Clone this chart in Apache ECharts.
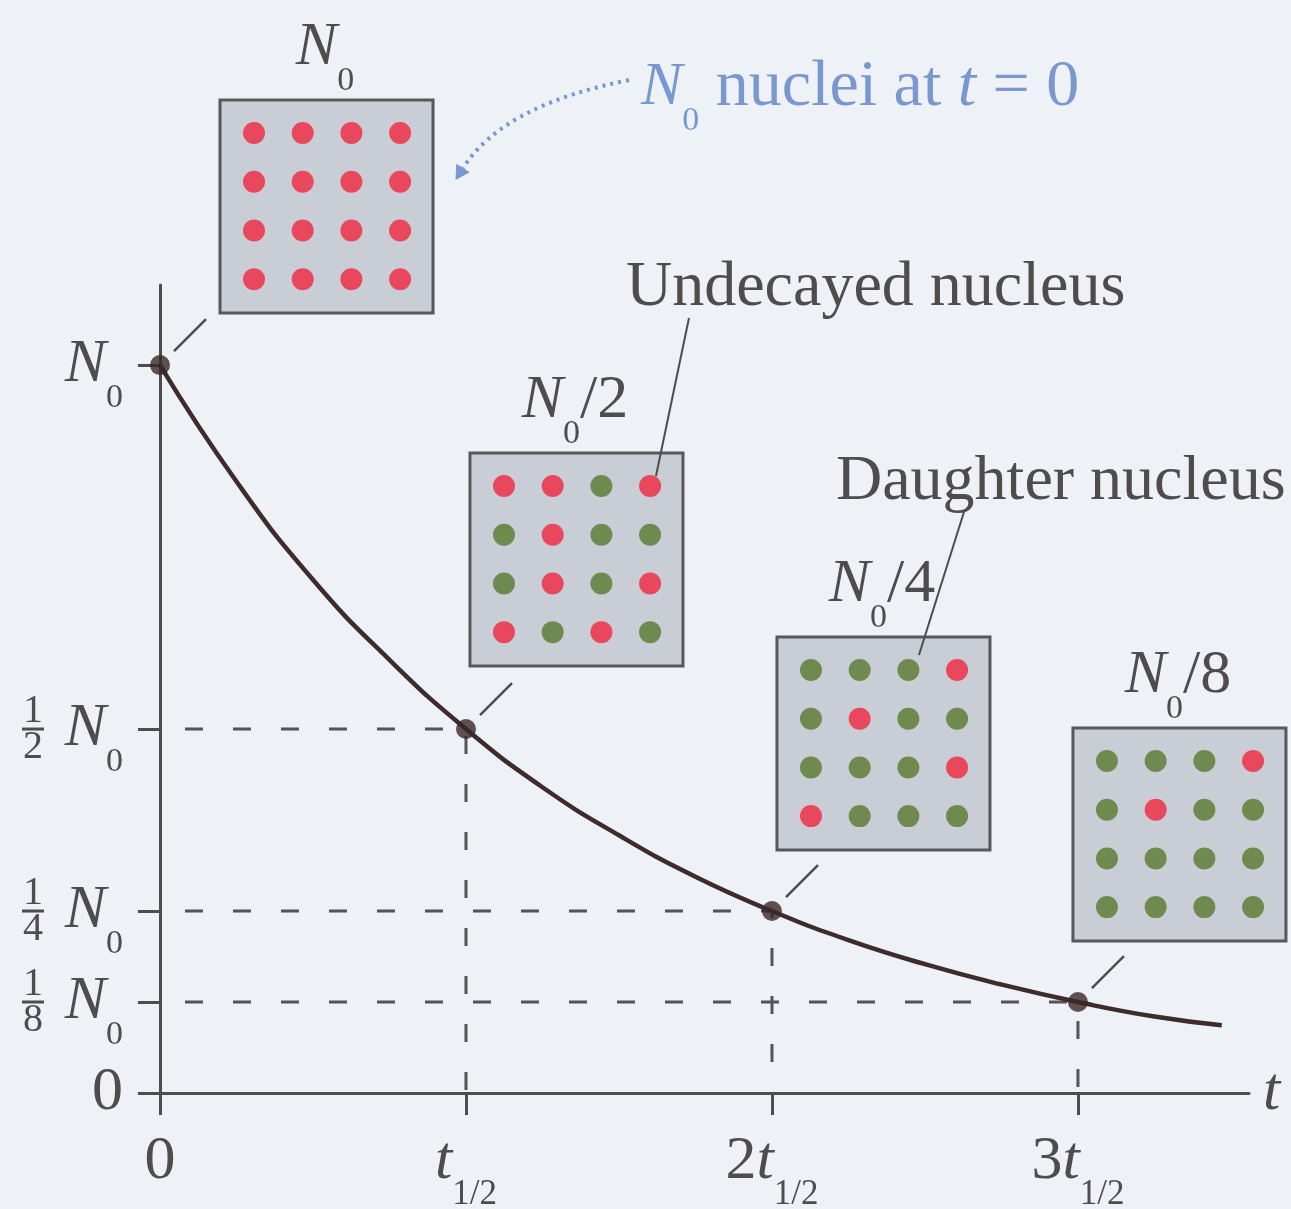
<!DOCTYPE html>
<html>
<head>
<meta charset="utf-8">
<script src="https://cdn.jsdelivr.net/npm/echarts@6/dist/echarts.min.js"></script>
<style>
  html, body { margin: 0; padding: 0; background: #eef1f6; }
  #chart { width: 1291px; height: 1209px; }
</style>
</head>
<body>
<div id="chart"></div>
<script>
// Decay curve: time in half-lives, remaining fraction of N0
const curveT = [0, 0.25, 0.5, 0.75, 1, 1.25, 1.5, 1.75, 2, 2.25, 2.5, 2.75, 3, 3.25, 3.47];
const curveN = [1, 0.84, 0.705, 0.595, 0.5, 0.42, 0.354, 0.297, 0.25, 0.21, 0.177, 0.149, 0.125, 0.105, 0.093];

// Marked points after each half-life
const markT = [0, 1, 2, 3];
const markN = [1, 0.5, 0.25, 0.125];

// Sample panels: title suffix and nucleus states row by row (U = undecayed, D = daughter)
const panelTitles = ['', '/2', '/4', '/8'];
const panelStates = [
  ['UUUU', 'UUUU', 'UUUU', 'UUUU'],
  ['UUDU', 'DUDD', 'DUDU', 'UDUD'],
  ['DDDU', 'DUDD', 'DDDU', 'UDDD'],
  ['DDDU', 'DUDD', 'DDDD', 'DDDD']
];

// Tick labels
const xTickValues = [0, 1, 2, 3];
const xTickPrefix = ['0', '', '2', '3'];
const yTickValues = [0, 0.125, 0.25, 0.5, 1];
const yFracValues = [0.125, 0.25, 0.5];
const yFracDen = ['8', '4', '2'];

// Callout texts
const calloutTexts = ['Undecayed nucleus', 'Daughter nucleus'];

// ---- styling ----
const FONT = '"Liberation Serif", "Times New Roman", serif';
const INK = '#4e4c4d';
const CURVE = '#3e2b2c';
const BLUE = '#7898cf';
const RED = '#e8475c';
const GREEN = '#6e8a4e';
const BOX_FILL = '#c9ced6';
const BOX = 213;
const DOT_STEP = 48.7;

// box top-left relative to its point on the curve
const panelOffset = [[60, -265], [4, -276], [5, -274], [-5, -274]];
// callouts: which panel, text left/center, line start/end (relative to panel top-left)
const calloutLayout = [
  { panel: 1, text: [156, -165], from: [219, -135], to: [186, 23] },
  { panel: 2, text: [59, -155], from: [187, -125], to: [142, 18] }
];

// rich styles for axis labels (ECharts label style)
const richLabel = {
  n: { fontFamily: FONT, fontStyle: 'italic', fontSize: 62, lineHeight: 100, color: INK },
  t: { fontFamily: FONT, fontStyle: 'italic', fontSize: 62, lineHeight: 100, color: INK },
  z: { fontFamily: FONT, fontSize: 62, lineHeight: 100, color: INK },
  s: { fontFamily: FONT, fontSize: 34, verticalAlign: 'bottom', color: INK },
  q: { fontFamily: FONT, fontSize: 35, verticalAlign: 'bottom', color: INK }
};

// rich styles for drawn text elements (zrender style uses fill)
function richText(color) {
  return {
    n: { fontFamily: FONT, fontStyle: 'italic', fontSize: 62, lineHeight: 100, fill: color },
    t: { fontFamily: FONT, fontStyle: 'italic', fontSize: 66, lineHeight: 100, fill: color },
    r: { fontFamily: FONT, fontSize: 62, lineHeight: 100, fill: color },
    w: { fontFamily: FONT, fontSize: 66, lineHeight: 100, fill: color },
    s: { fontFamily: FONT, fontSize: 34, verticalAlign: 'bottom', fill: color }
  };
}

const curveData = curveT.map((t, i) => [t, curveN[i]]);
const markData = markT.map((t, i) => [t, markN[i]]);
const panelData = markT.map((t, i) => [t, markN[i], i]);

// dashed guides from each later point to both axes
const guideSeries = markData.slice(1).map(p => ({
  type: 'line',
  data: [[0, p[1]], [p[0], p[1]], [p[0], 0]],
  symbol: 'none',
  silent: true,
  z: 1,
  lineStyle: { color: '#565456', width: 3, type: [18, 30], dashOffset: 23 }
}));

function renderPanel(params, api) {
  const i = api.value(2);
  const p = api.coord([api.value(0), api.value(1)]);
  const x0 = p[0] + panelOffset[i][0];
  const y0 = p[1] + panelOffset[i][1];
  const children = [];
  // leader from the point to its panel
  children.push({
    type: 'line',
    shape: { x1: p[0] + 14, y1: p[1] - 14, x2: p[0] + 46, y2: p[1] - 46 },
    style: { stroke: INK, lineWidth: 2.5 }
  });
  children.push({
    type: 'rect',
    shape: { x: x0, y: y0, width: BOX, height: BOX },
    style: { fill: BOX_FILL, stroke: '#58575a', lineWidth: 3 }
  });
  panelStates[i].forEach((row, r) => {
    for (let c = 0; c < row.length; c++) {
      children.push({
        type: 'circle',
        shape: { cx: x0 + 34 + c * DOT_STEP, cy: y0 + 33 + r * DOT_STEP, r: 11 },
        style: { fill: row[c] === 'U' ? RED : GREEN }
      });
    }
  });
  const title = '{n|N}{s|0}' + (panelTitles[i] ? '{r|' + panelTitles[i] + '}' : '');
  children.push({
    type: 'text',
    style: { text: title, x: x0 + 105, y: y0 - 52, align: 'center', verticalAlign: 'middle', rich: richText(INK) }
  });
  calloutLayout.forEach((co, k) => {
    if (co.panel !== i) return;
    children.push({
      type: 'line',
      shape: { x1: x0 + co.from[0], y1: y0 + co.from[1], x2: x0 + co.to[0], y2: y0 + co.to[1] },
      style: { stroke: INK, lineWidth: 2 }
    });
    children.push({
      type: 'text',
      style: {
        text: calloutTexts[k], x: x0 + co.text[0], y: y0 + co.text[1],
        align: 'left', verticalAlign: 'middle',
        font: '64px ' + FONT, fill: INK
      }
    });
  });
  return { type: 'group', children };
}

const chart = echarts.init(document.getElementById('chart'), null, { renderer: 'canvas' });

const option = {
  backgroundColor: '#eef1f6',
  animation: false,
  grid: { left: 160, right: 42, top: 285, bottom: 116, containLabel: false, outerBoundsMode: 'none' },
  xAxis: {
    type: 'value',
    min: 0,
    max: 3.559,
    name: 't',
    nameLocation: 'end',
    nameGap: 14,
    nameTextStyle: { fontFamily: FONT, fontStyle: 'italic', fontSize: 62, color: INK, verticalAlign: 'middle' },
    axisLine: { lineStyle: { color: INK, width: 3 } },
    axisTick: { customValues: xTickValues, length: 22, lineStyle: { color: INK, width: 3 } },
    splitLine: { show: false },
    axisLabel: {
      customValues: xTickValues,
      margin: 19,
      formatter: v => {
        const i = xTickValues.indexOf(v);
        if (v === 0) return '{z|0}';
        return (xTickPrefix[i] ? '{z|' + xTickPrefix[i] + '}' : '') + '{t|t}{q|1/2}';
      },
      rich: richLabel
    }
  },
  yAxis: [
    {
      type: 'value',
      min: 0,
      max: 1.11,
      axisLine: { show: true, lineStyle: { color: INK, width: 3 } },
      axisTick: { show: true, customValues: yTickValues, length: 22, lineStyle: { color: INK, width: 3 } },
      splitLine: { show: false },
      axisLabel: {
        customValues: yTickValues,
        margin: 37,
        formatter: v => (v === 0 ? '{z|0}' : '{n|N}{s|0}'),
        rich: richLabel
      }
    },
    {
      type: 'value',
      min: 0,
      max: 1.11,
      position: 'left',
      axisLine: { show: false },
      axisTick: { show: false },
      splitLine: { show: false },
      axisLabel: {
        customValues: yFracValues,
        margin: 127,
        align: 'center',
        formatter: v => '{a|1}\n{b| }\n{a|' + yFracDen[yFracValues.indexOf(v)] + '}',
        rich: {
          a: { fontFamily: FONT, fontSize: 40, lineHeight: 28, color: INK },
          b: { width: 22, height: 3, lineHeight: 8, backgroundColor: INK, fontSize: 2 }
        }
      }
    }
  ],
  series: [
    ...guideSeries,
    {
      type: 'line',
      data: curveData,
      smooth: true,
      symbol: 'none',
      z: 3,
      lineStyle: { color: CURVE, width: 4.5 }
    },
    {
      type: 'scatter',
      data: markData,
      symbolSize: 20,
      z: 4,
      itemStyle: { color: '#3a2728' }
    },
    {
      type: 'custom',
      data: panelData,
      renderItem: renderPanel,
      z: 5,
      silent: true,
      clip: false
    }
  ]
};

chart.setOption(option);

// Blue note pointing at the first panel
const firstBox = chart.convertToPixel({ gridIndex: 0 }, markData[0]);
const bx = firstBox[0] + panelOffset[0][0] + BOX;
const by = firstBox[1] + panelOffset[0][1];
const start = [bx + 196, by - 20];
const ctrl = [bx + 70, by + 5];
const end = [bx + 30, by + 68];
const dir = [end[0] - ctrl[0], end[1] - ctrl[1]];
const len = Math.hypot(dir[0], dir[1]);
const ux = dir[0] / len, uy = dir[1] / len;
const tip = [end[0] + ux * 14, end[1] + uy * 14];
const head = [
  tip,
  [end[0] - uy * 8, end[1] + ux * 8],
  [end[0] + uy * 8, end[1] - ux * 8]
];

chart.setOption({
  graphic: [
    {
      type: 'bezierCurve',
      shape: { x1: start[0], y1: start[1], cpx1: ctrl[0], cpy1: ctrl[1], x2: end[0], y2: end[1] },
      style: { stroke: BLUE, lineWidth: 4, lineDash: [3, 5], fill: null },
      z: 10
    },
    {
      type: 'polygon',
      shape: { points: head },
      style: { fill: BLUE },
      z: 10
    },
    {
      type: 'text',
      x: bx + 208,
      y: by - 12,
      style: {
        text: '{n|N}{s|0}{w| nuclei at }{t|t}{w| = 0}',
        verticalAlign: 'middle',
        align: 'left',
        rich: richText(BLUE)
      },
      z: 10
    }
  ]
});
</script>
</body>
</html>
